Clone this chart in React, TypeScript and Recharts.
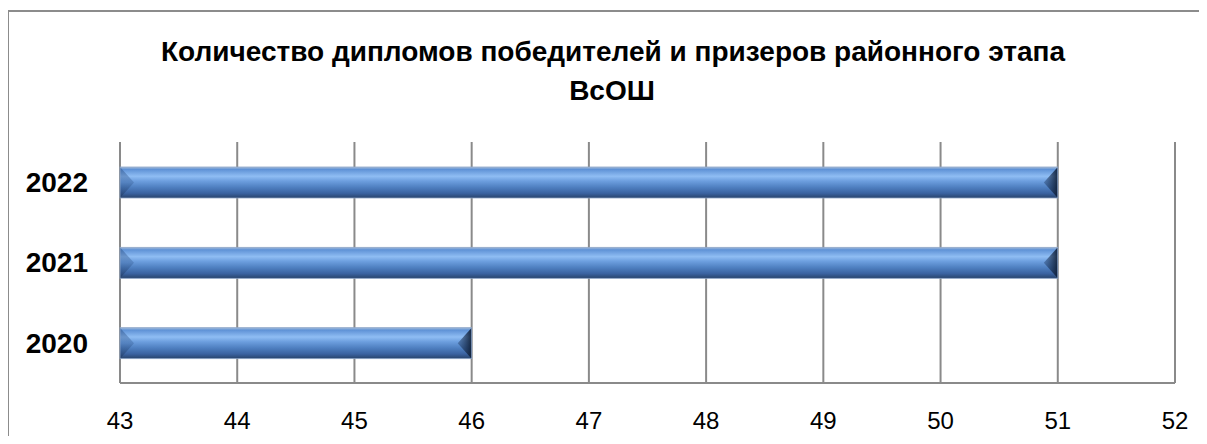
import React from 'react';
import { BarChart, Bar, XAxis, YAxis, CartesianGrid } from 'recharts';

const years = ['2020', '2021', '2022'];
const diplomas = [46, 51, 51];
const xTicks = [43, 44, 45, 46, 47, 48, 49, 50, 51, 52];
const titleLines = ['Количество дипломов победителей и призеров районного этапа', 'ВсОШ'];

const data = years.map((year, i) => ({ year, value: diplomas[i] }));

const FONT = '"Liberation Sans", Arial, sans-serif';
const GRID = '#8a8a8a';

// bar with the bevelled look of the original (gradient body, pointed end caps)
const BevelBar = (props: any) => {
  const { x, y, width, height } = props;
  if (!width || width <= 0) return null;
  const b = Math.min(height / 2, 14);
  return (
    <g>
      <rect x={x} y={y} width={width} height={height} fill="url(#barBody)" />
      <polygon
        points={`${x},${y} ${x + b},${y + height / 2} ${x},${y + height}`}
        fill="url(#capLeft)"
      />
      <polygon
        points={`${x + width},${y} ${x + width - b},${y + height / 2} ${x + width},${y + height}`}
        fill="url(#capRight)"
      />
      <rect x={x} y={y} width={width} height={height} fill="none" stroke="#8ea6c8" strokeWidth={0.8} />
    </g>
  );
};

export default function App() {
  return (
    <div style={{ position: 'relative', width: 1190, height: 428 }}>
      <style>{'html { overflow: hidden; }'}</style>
      {/* frame: only the top and left edges are visible in the original crop */}
      <svg width={1199} height={434} style={{ position: 'absolute', left: -1, top: 2 }}>
        <line x1={0} y1={1} x2={1199} y2={1} stroke="#8c8c8c" strokeWidth={2} />
        <line x1={1} y1={0} x2={1} y2={434} stroke="#8c8c8c" strokeWidth={2} />
      </svg>
      <svg width={1180} height={110} style={{ position: 'absolute', left: 0, top: 0 }}>
        <text x={605} y={53} textAnchor="middle" fontFamily={FONT} fontWeight="bold" fontSize={28} fill="#000">
          {titleLines[0]}
        </text>
        <text x={604} y={92} textAnchor="middle" fontFamily={FONT} fontWeight="bold" fontSize={28} fill="#000">
          {titleLines[1]}
        </text>
      </svg>
      <div style={{ position: 'absolute', left: 0, top: 0 }}>
        <BarChart
          width={1185}
          height={428}
          data={data}
          layout="vertical"
          margin={{ top: 134, right: 18, left: 0, bottom: 0 }}
          barSize={31}
        >
          <defs>
            <linearGradient id="barBody" x1="0" y1="0" x2="0" y2="1">
              <stop offset="0" stopColor="#a3bbd9" />
              <stop offset="0.08" stopColor="#5f92d6" />
              <stop offset="0.3" stopColor="#8fbdf3" />
              <stop offset="0.45" stopColor="#6d9fdf" />
              <stop offset="0.65" stopColor="#4f80c1" />
              <stop offset="0.85" stopColor="#3a62a0" />
              <stop offset="1" stopColor="#28436b" />
            </linearGradient>
            <linearGradient id="capLeft" x1="0" y1="0" x2="0" y2="1">
              <stop offset="0" stopColor="#2d5288" stopOpacity={0.5} />
              <stop offset="0.5" stopColor="#2d5288" stopOpacity={0.3} />
              <stop offset="1" stopColor="#1b3358" stopOpacity={0.55} />
            </linearGradient>
            <linearGradient id="capRight" x1="0" y1="0" x2="1" y2="0">
              <stop offset="0" stopColor="#1c355c" stopOpacity={0.35} />
              <stop offset="1" stopColor="#0c1a30" stopOpacity={0.9} />
            </linearGradient>
          </defs>
          <CartesianGrid horizontal={false} stroke={GRID} strokeWidth={2} />
          <XAxis
            type="number"
            domain={[43, 52]}
            ticks={xTicks}
            interval={0}
            axisLine={{ stroke: GRID, strokeWidth: 2 }}
            tickLine={false}
            tickSize={0}
            tickMargin={29}
            height={53}
            tick={{ fill: '#000', fontSize: 24, fontFamily: FONT }}
          />
          <YAxis
            type="category"
            dataKey="year"
            reversed
            width={112}
            axisLine={false}
            tickLine={false}
            tickSize={0}
            tickMargin={32}
            tick={{ fill: '#000', fontSize: 28, fontWeight: 'bold', fontFamily: FONT }}
          />
          <Bar dataKey="value" shape={BevelBar} isAnimationActive={false} />
        </BarChart>
      </div>
    </div>
  );
}
